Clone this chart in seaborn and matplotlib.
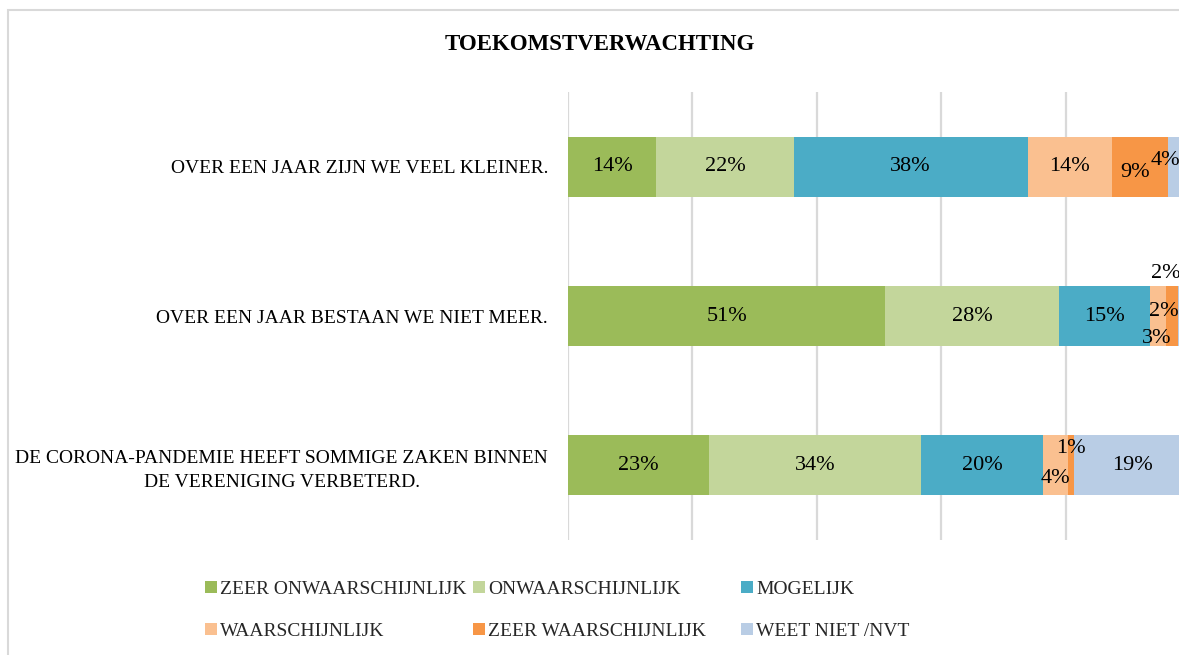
import numpy as np
import pandas as pd
import matplotlib
matplotlib.use("Agg")
import matplotlib.pyplot as plt
from matplotlib.patches import Patch, Rectangle
import seaborn as sns

# ---- data ----
categories = [
    "OVER EEN JAAR ZIJN WE VEEL KLEINER.",
    "OVER EEN JAAR BESTAAN WE NIET MEER.",
    "DE CORONA-PANDEMIE HEEFT SOMMIGE ZAKEN BINNEN\nDE VERENIGING VERBETERD.",
]
series_names = [
    "ZEER ONWAARSCHIJNLIJK",
    "ONWAARSCHIJNLIJK",
    "MOGELIJK",
    "WAARSCHIJNLIJK",
    "ZEER WAARSCHIJNLIJK",
    "WEET NIET /NVT",
]
zeer_onwaarschijnlijk = [14.2, 51.0, 22.7]
onwaarschijnlijk = [22.1, 28.0, 34.1]
mogelijk = [37.6, 14.6, 19.6]
waarschijnlijk = [13.6, 2.6, 4.0]
zeer_waarschijnlijk = [8.9, 1.8, 1.0]
weet_niet = [3.6, 2.0, 18.7]
title = "TOEKOMSTVERWACHTING"

# ---- style ----
colors = ["#9BBB59", "#C3D69B", "#4BACC6", "#FAC090", "#F79646", "#B9CDE5"]
grid_color = "#D9D9D9"
W, H = 1179, 655
FONT = "Liberation Serif"

sns.set_style("white")
plt.rcParams["font.family"] = [FONT, "DejaVu Serif"]

values = np.array([zeer_onwaarschijnlijk, onwaarschijnlijk, mogelijk,
                   waarschijnlijk, zeer_waarschijnlijk, weet_niet]).T  # rows x series
cum = np.cumsum(values, axis=1)

fig = plt.figure(figsize=(W / 100, H / 100), dpi=100)
ax = fig.add_axes([568 / W, 1 - 540 / H, 622 / W, 448 / H])

# stacked bars: draw cumulative totals from largest to smallest
for k in range(values.shape[1] - 1, -1, -1):
    df = pd.DataFrame({"cat": categories, "val": cum[:, k]})
    sns.barplot(data=df, x="val", y="cat", orient="h", color=colors[k],
                saturation=1, width=0.4, errorbar=None, ax=ax, linewidth=0,
                zorder=2)

ax.set_xlim(0, 100)
ax.set_ylim(2.5, -0.5)
ax.set_xticks(np.arange(0, 101, 20))
ax.set_xticklabels([])
ax.grid(axis="x", color=grid_color, linewidth=1.6)
ax.grid(axis="y", visible=False)
ax.set_axisbelow(True)
for s in ax.spines.values():
    s.set_visible(False)
ax.set_xlabel("")
ax.set_ylabel("")
ax.tick_params(axis="x", length=0)
ax.tick_params(axis="y", length=0, pad=14.4, labelsize=14, labelcolor="black")
for lbl in ax.get_yticklabels():
    lbl.set_multialignment("center")
    lbl.set_linespacing(1.5)

# data labels (offsets in pixels for the small segments)
label_offsets = {
    (0, 4): (-5, -6),
    (0, 5): (-13, 6),
    (1, 3): (-2, -22),
    (1, 4): (-8, 5),
    (1, 5): (-18, 43),
    (2, 3): (0, -13),
    (2, 4): (0, 17),
}
for i in range(values.shape[0]):
    for k in range(values.shape[1]):
        v = values[i, k]
        xc = cum[i, k] - v / 2
        dx, dy = label_offsets.get((i, k), (0, 0))
        ax.annotate(f"{v:.0f}%", xy=(xc, i), xytext=(dx, dy),
                    textcoords="offset pixels", ha="center", va="center",
                    fontsize=16, color="black", annotation_clip=False, zorder=5)

# title
fig.text(600 / W, 1 - 45 / H, title, ha="center", va="center",
         fontsize=16.5, fontweight="bold", color="black")

# legend: three columns, two rows
legend_pos = [(205, 589), (473, 589), (741, 589),
              (205, 631), (473, 631), (741, 631)]
for k, name in enumerate(series_names):
    x, y = legend_pos[k]
    fig.legend(handles=[Patch(facecolor=colors[k], edgecolor="none")],
               labels=[name], loc="center left",
               bbox_to_anchor=(x / W, 1 - y / H), frameon=False,
               borderpad=0, borderaxespad=0, fontsize=14,
               handlelength=0.62, handleheight=0.58, handletextpad=0.15)

# chart frame
fig.patches.append(Rectangle((8 / W, -0.05), 1.2, 1 - 9.7 / H + 0.05,
                             transform=fig.transFigure, fill=False,
                             edgecolor=grid_color, linewidth=1.5))

fig.savefig("out.png", dpi=100)
